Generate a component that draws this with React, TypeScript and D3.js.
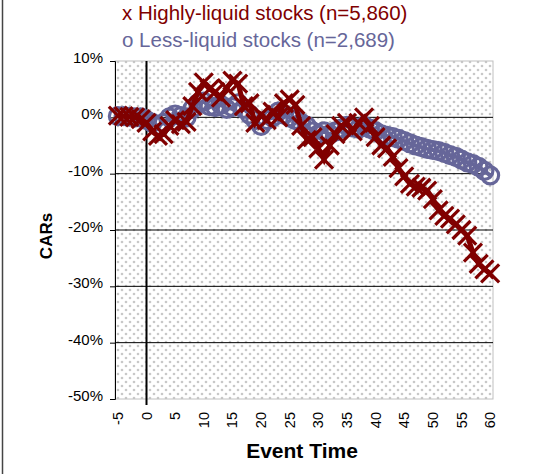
import React, { useEffect, useRef } from 'react';
import * as d3 from 'd3';

const eventTimes = d3.range(-5, 61);
const xTickLabels = [-5, 0, 5, 10, 15, 20, 25, 30, 35, 40, 45, 50, 55, 60];
const yTicks = [10, 0, -10, -20, -30, -40, -50];

// CARs in percent, t = -5..60
const highlyLiquid = [
  0.3, 0.2, 0.1, 0.0, -0.3, -1.0, -2.5, -3.3, -3.0, -1.5, -0.5, -1.2, -0.8, 2.0, 4.5, 6.2, 5.0, 4.5, 3.5, 5.2,
  6.5, 6.0, 2.0, 2.5, -1.0, 0.5, -0.5, 1.0, 0.0, 2.5, 3.2, 2.2, -1.5, -4.0, -3.5, -5.5, -7.5, -5.0, -3.0, -1.5,
  -1.0, -2.5, -1.0, 0.0, -1.5, -3.5, -5.0, -5.5, -7.0, -9.0, -10.5, -11.8, -12.3, -12.5, -13.0, -14.5, -16.5, -17.5, -18.0, -19.0,
  -20.0, -21.0, -24.0, -26.0, -27.0, -27.7,
];
const lessLiquid = [
  0.2, 0.2, 0.1, 0.0, 0.0, -0.5, -1.0, -1.5, -1.0, 0.0, 0.5, 0.2, 0.0, 1.5, 2.5, 2.8, 2.0, 1.8, 2.2, 1.5,
  1.8, 2.5, 1.5, 0.5, -0.5, -1.5, -0.5, 0.0, 1.0, 0.5, 0.0, -0.5, -1.0, -1.5, -2.5, -3.0, -2.5, -3.0, -2.5, -2.0,
  -1.5, -1.8, -2.0, -1.5, -2.0, -2.5, -3.0, -3.3, -3.5, -3.8, -4.2, -4.6, -5.0, -5.3, -5.6, -5.8, -6.0, -6.3, -6.7, -7.0,
  -7.5, -8.0, -8.3, -8.8, -9.5, -10.3, -10.6,
].slice(0, 66);

const RED = '#800000';
const BLUE = '#666699';
const FONT = 'Arial, "Liberation Sans", sans-serif';

export default function App() {
  const svgRef = useRef<SVGSVGElement | null>(null);
  const width = 539;
  const height = 474;

  useEffect(() => {
    if (!svgRef.current) return;
    const plot = { left: 115, right: 493, top: 61, bottom: 399 };

    const x = d3
      .scaleBand<number>()
      .domain(eventTimes)
      .range([plot.left, plot.right]);
    const cx = (t: number) => (x(t) || 0) + x.bandwidth() / 2;
    const y = d3.scaleLinear().domain([-50, 10]).range([plot.bottom, plot.top]);

    const svg = d3.select(svgRef.current);
    svg.selectAll('*').remove();

    // dotted background pattern
    const defs = svg.append('defs');
    const pat = defs
      .append('pattern')
      .attr('id', 'dots')
      .attr('width', 8)
      .attr('height', 8)
      .attr('patternUnits', 'userSpaceOnUse');
    pat.append('rect').attr('width', 8).attr('height', 8).attr('fill', '#fff');
    pat.append('circle').attr('cx', 2).attr('cy', 2).attr('r', 1.3).attr('fill', '#c8c8c8');
    pat.append('circle').attr('cx', 6).attr('cy', 6).attr('r', 1.3).attr('fill', '#c8c8c8');

    // outer frame (left edge)
    svg.append('line').attr('x1', 2.5).attr('x2', 2.5).attr('y1', 0).attr('y2', height).attr('stroke', '#444').attr('stroke-width', 1.5);

    svg
      .append('rect')
      .attr('x', plot.left)
      .attr('y', plot.top)
      .attr('width', plot.right - plot.left)
      .attr('height', plot.bottom - plot.top)
      .attr('fill', 'url(#dots)')
      .attr('stroke', '#c0c0c0');

    // gridlines
    svg
      .selectAll('line.grid')
      .data(yTicks.filter((d) => d < 10 && d > -50))
      .enter()
      .append('line')
      .attr('x1', plot.left)
      .attr('x2', plot.right)
      .attr('y1', (d) => y(d))
      .attr('y2', (d) => y(d))
      .attr('stroke', '#000')
      .attr('stroke-width', 1);

    // y axis
    const yAxis = svg
      .append('g')
      .attr('transform', `translate(${plot.left},0)`)
      .call(
        d3
          .axisLeft(y)
          .tickValues(yTicks)
          .tickSize(5)
          .tickFormat((d) => `${d}%`)
      );
    yAxis.select('.domain').attr('stroke', '#000');
    yAxis
      .selectAll('.tick text')
      .attr('font-family', FONT)
      .attr('font-size', 15)
      .attr('fill', '#000')
      .attr('x', -12)
      .attr('dy', '0.1em');

    // vertical event-day line
    svg
      .append('line')
      .attr('x1', cx(0))
      .attr('x2', cx(0))
      .attr('y1', plot.top)
      .attr('y2', plot.bottom + 6)
      .attr('stroke', '#000')
      .attr('stroke-width', 2);

    // x tick labels
    svg
      .selectAll('text.xt')
      .data(xTickLabels)
      .enter()
      .append('text')
      .attr('transform', (d) => `translate(${cx(d) + 5},${plot.bottom + 13}) rotate(-90)`)
      .attr('text-anchor', 'end')
      .attr('font-family', FONT)
      .attr('font-size', 14.5)
      .text((d) => String(d));

    const line = d3
      .line<number>()
      .x((_, i) => cx(eventTimes[i]))
      .y((d) => y(d));

    // less-liquid series
    svg.append('path').datum(lessLiquid).attr('d', line).attr('fill', 'none').attr('stroke', BLUE).attr('stroke-width', 4);
    svg
      .selectAll('circle.less')
      .data(lessLiquid)
      .enter()
      .append('circle')
      .attr('cx', (_, i) => cx(eventTimes[i]))
      .attr('cy', (d) => y(d))
      .attr('r', 8.5)
      .attr('fill', 'none')
      .attr('stroke', BLUE)
      .attr('stroke-width', 3.2);

    // highly-liquid series
    svg.append('path').datum(highlyLiquid).attr('d', line).attr('fill', 'none').attr('stroke', RED).attr('stroke-width', 5);
    svg
      .selectAll('path.high')
      .data(highlyLiquid)
      .enter()
      .append('path')
      .attr('transform', (d, i) => `translate(${cx(eventTimes[i])},${y(d)})`)
      .attr('d', 'M-9,-9L9,9M-9,9L9,-9')
      .attr('stroke', RED)
      .attr('stroke-width', 3.2);

    // legend
    const legend = [
      { label: 'x Highly-liquid stocks (n=5,860)', color: RED, y: 20 },
      { label: 'o Less-liquid stocks (n=2,689)', color: BLUE, y: 47 },
    ];
    svg
      .selectAll('text.leg')
      .data(legend)
      .enter()
      .append('text')
      .attr('x', 122)
      .attr('y', (d) => d.y)
      .attr('fill', (d) => d.color)
      .attr('font-family', FONT)
      .attr('font-size', 20.5)
      .text((d) => d.label);

    // axis titles
    svg
      .append('text')
      .attr('transform', `translate(52,236) rotate(-90)`)
      .attr('text-anchor', 'middle')
      .attr('font-family', FONT)
      .attr('font-weight', 'bold')
      .attr('font-size', 17)
      .text('CARs');
    svg
      .append('text')
      .attr('x', 302)
      .attr('y', 458)
      .attr('text-anchor', 'middle')
      .attr('font-family', FONT)
      .attr('font-weight', 'bold')
      .attr('font-size', 21)
      .text('Event Time');
  }, []);

  return <svg ref={svgRef} width={width} height={height} style={{ position: 'absolute', left: 0, top: 0, background: '#fff' }} />;
}
